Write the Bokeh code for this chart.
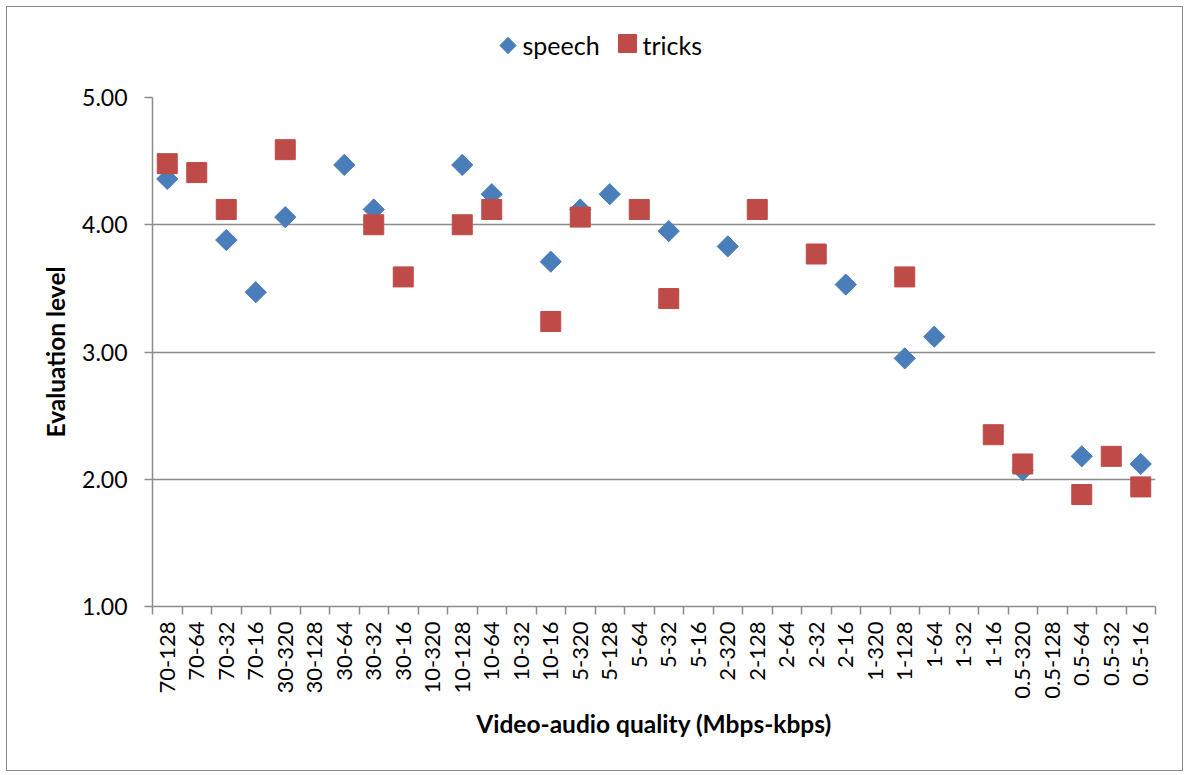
import math
from bokeh.plotting import figure
from bokeh.layouts import column
from bokeh.models import (Range1d, FixedTicker, ColumnDataSource, Label,
                          NumeralTickFormatter)
from bokeh.embed import file_html
from bokeh.resources import INLINE

nan = float("nan")

categories = ["70-128", "70-64", "70-32", "70-16", "30-320", "30-128", "30-64", "30-32",
              "30-16", "10-320", "10-128", "10-64", "10-32", "10-16", "5-320", "5-128",
              "5-64", "5-32", "5-16", "2-320", "2-128", "2-64", "2-32", "2-16", "1-320",
              "1-128", "1-64", "1-32", "1-16", "0.5-320", "0.5-128", "0.5-64", "0.5-32",
              "0.5-16"]

speech = [4.36, nan, 3.88, 3.47, 4.06, nan, 4.47, 4.12, nan, nan, 4.47, 4.24, nan, 3.71,
          4.12, 4.24, nan, 3.95, nan, 3.83, nan, nan, nan, 3.53, nan, 2.95, 3.12, nan,
          nan, 2.07, nan, 2.18, nan, 2.12]

tricks = [4.48, 4.41, 4.12, nan, 4.59, nan, nan, 4.00, 3.59, nan, 4.00, 4.12, nan, 3.24,
          4.06, nan, 4.12, 3.42, nan, nan, 4.12, nan, 3.77, nan, nan, 3.59, nan, nan,
          2.35, 2.12, nan, 1.88, 2.18, 1.94]

series_names = ["speech", "tricks"]
y_ticks = [1, 2, 3, 4, 5]

FONT = "Lato"
GRID = "#8c8c8c"
C_SPEECH = "#4A7EBB"
C_TRICKS = "#BE4B48"
W = 1175
BL, BR = 145, 27          # main plot left / right borders
OFF = 7                   # page offset of the layout content

x = list(range(len(categories)))
src_s = ColumnDataSource(dict(x=[i for i, v in zip(x, speech) if not math.isnan(v)],
                              y=[v for v in speech if not math.isnan(v)]))
src_t = ColumnDataSource(dict(x=[i for i, v in zip(x, tricks) if not math.isnan(v)],
                              y=[v for v in tricks if not math.isnan(v)]))

# ---------------- legend strip (top) ----------------
# its frame is aligned with the main frame by the column layout
LH = 70
lf = figure(width=W, height=LH, output_backend="svg", toolbar_location=None,
            x_axis_type=None, y_axis_type=None,
            x_range=Range1d(OFF + BL, OFF + W - BR), y_range=Range1d(0, LH),
            min_border_left=BL, min_border_right=BR,
            min_border_top=0, min_border_bottom=0)
lf.grid.visible = False
lf.outline_line_color = None
lf.background_fill_color = "white"
lf.border_fill_color = "white"

key_src = ColumnDataSource(dict(x=[507.5, 627], y=[32, 34],
                                marker=["square", "square"],
                                angle=[math.pi / 4, 0], size=[11.5, 18],
                                color=[C_SPEECH, C_TRICKS]))
lf.scatter("x", "y", source=key_src, marker="marker", angle="angle", size="size",
           fill_color="color", line_color="color")
for lx, name in zip([522, 642], series_names):
    lf.add_layout(Label(x=lx, y=33, text=name, text_color="black", text_font=FONT,
                        text_font_size="25px", text_align="left",
                        text_baseline="middle"))

# ---------------- main chart ----------------
p = figure(width=W, height=763 - LH, output_backend="svg", toolbar_location=None,
           x_range=Range1d(-0.5, len(categories) - 0.5), y_range=Range1d(1, 5),
           min_border_left=BL, min_border_right=BR, min_border_top=20,
           min_border_bottom=164)
p.outline_line_color = None
p.background_fill_color = "white"
p.border_fill_color = "white"

p.scatter("x", "y", source=src_s, marker="square", angle=math.pi / 4, size=15,
          fill_color=C_SPEECH, line_color=C_SPEECH)
p.scatter("x", "y", source=src_t, marker="square", size=20,
          fill_color=C_TRICKS, line_color=C_TRICKS)

# x axis
xa = p.xaxis[0]
xa.ticker = FixedTicker(ticks=x, minor_ticks=[i - 0.5 for i in range(len(categories) + 1)])
xa.major_label_overrides = {i: c for i, c in zip(x, categories)}
xa.major_label_orientation = math.pi / 2
xa.major_tick_out = 0
xa.major_tick_in = 0
xa.minor_tick_out = 8
xa.minor_tick_in = 0
xa.minor_tick_line_color = GRID
xa.minor_tick_line_width = 1.5
xa.axis_line_color = GRID
xa.axis_line_width = 1.5
xa.major_label_text_font = FONT
xa.major_label_text_font_size = "22px"
xa.major_label_text_color = "black"
xa.major_label_standoff = 7
xa.axis_label = "Video-audio quality (Mbps-kbps)"
xa.axis_label_text_font = FONT
xa.axis_label_text_font_style = "bold"
xa.axis_label_text_font_size = "24.5px"
xa.axis_label_text_color = "black"
xa.axis_label_standoff = 7

# y axis
ya = p.yaxis[0]
ya.ticker = FixedTicker(ticks=y_ticks)
ya.formatter = NumeralTickFormatter(format="0.00")
ya.major_tick_out = 8
ya.major_tick_in = 0
ya.minor_tick_out = 0
ya.minor_tick_in = 0
ya.major_tick_line_color = GRID
ya.major_tick_line_width = 1.5
ya.axis_line_color = GRID
ya.axis_line_width = 1.5
ya.major_label_text_font = FONT
ya.major_label_text_font_size = "23px"
ya.major_label_text_color = "black"
ya.major_label_standoff = 17
ya.axis_label = "Evaluation level"
ya.axis_label_text_font = FONT
ya.axis_label_text_font_style = "bold"
ya.axis_label_text_font_size = "24.5px"
ya.axis_label_text_color = "black"
ya.axis_label_standoff = 9

p.xgrid.grid_line_color = None
p.ygrid.ticker = FixedTicker(ticks=y_ticks)
p.ygrid.grid_line_color = GRID
p.ygrid.grid_line_width = 1.5

layout = column(lf, p, spacing=0)
layout.styles = {"border": "1px solid #8a8a8a", "margin-left": "6px",
                 "margin-top": "6px", "background-color": "white"}

open("out.html", "w").write(file_html(layout, INLINE))
